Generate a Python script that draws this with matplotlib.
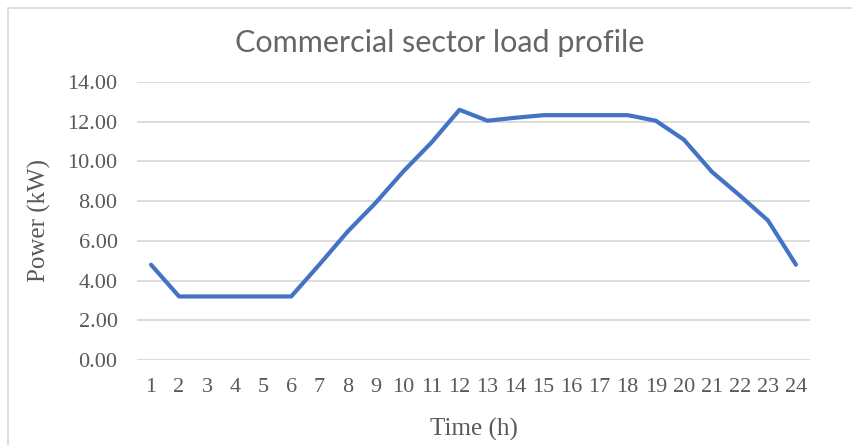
import matplotlib.pyplot as plt
from matplotlib.patches import Rectangle

hours = list(range(1, 25))
power = [4.8, 3.2, 3.2, 3.2, 3.2, 3.2, 4.8, 6.45, 7.9, 9.5, 10.95, 12.6,
         12.05, 12.2, 12.33, 12.33, 12.33, 12.33, 12.05, 11.1, 9.48, 8.28, 7.03, 4.8]
yticks = [0, 2, 4, 6, 8, 10, 12, 14]

grey = '#595959'
fig = plt.figure(figsize=(8.53, 4.45), dpi=100)
fig.patches.append(Rectangle((8/853, -0.01), 0.995, 1 - 8/445 + 0.01, transform=fig.transFigure,
                             fill=False, edgecolor='#d9d9d9', linewidth=1.2))
ax = fig.add_axes([137/853, 1 - 360/445, 673/853, 278/445])

ax.plot(hours, power, color='#4472C4', linewidth=3.0,
        solid_capstyle='round', solid_joinstyle='round', zorder=3)

ax.set_xlim(0.5, 24.5)
ax.set_ylim(0, 14)
ax.set_yticks(yticks)
ax.set_yticklabels(['%.2f' % v for v in yticks])
ax.set_xticks(hours)
ax.set_xticklabels([str(h) for h in hours])
ax.grid(axis='y', color='#d9d9d9', linewidth=1.3)
ax.set_axisbelow(True)
for s in ax.spines.values():
    s.set_visible(False)
ax.tick_params(length=0, colors=grey, labelsize=16)
for lab in ax.get_xticklabels() + ax.get_yticklabels():
    lab.set_family('Liberation Serif')
ax.tick_params(axis='x', pad=13)
ax.tick_params(axis='y', pad=14)

ax.set_xlabel('Time (h)', family='Liberation Serif', fontsize=18, color=grey, labelpad=15)
ax.set_ylabel('Power (kW)', family='Liberation Serif', fontsize=18, color=grey, labelpad=12)
fig.text(440/853, 1 - 43/445, 'Commercial sector load profile', ha='center', va='center',
         family='Lato', fontsize=22, color='#666666')

fig.savefig('out.png', dpi=100)
